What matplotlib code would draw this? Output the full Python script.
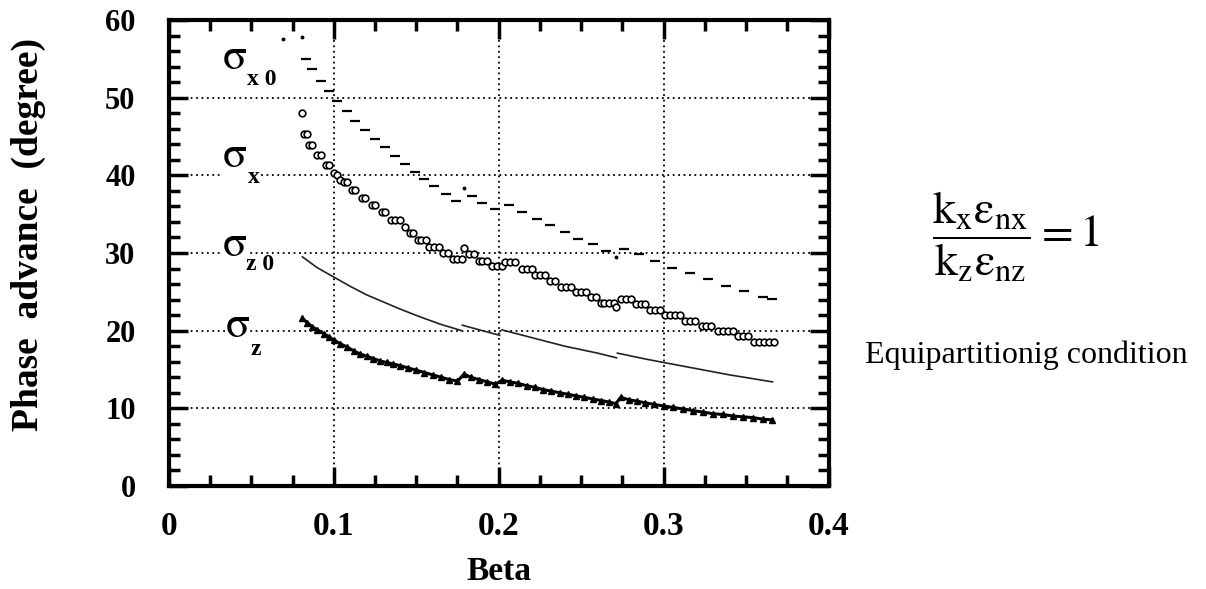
import numpy as np
import matplotlib
matplotlib.use("Agg")
import matplotlib.pyplot as plt
from matplotlib.ticker import MultipleLocator

plt.rcParams["font.family"] = ["Liberation Serif", "DejaVu Serif"]
plt.rcParams["mathtext.fontset"] = "stix"

# sigma_x0 : short dashes (plus a few isolated dots)
beta_x0 = [0.083, 0.087, 0.092, 0.097, 0.102, 0.108, 0.113, 0.119,
           0.125, 0.131, 0.137, 0.143, 0.149, 0.155, 0.161, 0.168, 0.174,
           0.184, 0.190, 0.198, 0.206, 0.214, 0.223, 0.231, 0.240, 0.248, 0.257,
           0.265, 0.276, 0.285, 0.295, 0.305, 0.316, 0.327, 0.338, 0.349,
           0.360, 0.366]
sig_x0 = [55.0, 53.7, 52.2, 50.8, 49.6, 48.3, 47.0, 45.8,
          44.7, 43.6, 42.5, 41.4, 40.4, 39.5, 38.6, 37.6, 36.7,
          37.3, 36.5, 35.6, 36.2, 35.3, 34.4, 33.6, 32.7, 31.8, 31.1,
          30.2, 30.5, 29.9, 29.0, 28.1, 27.4, 26.6, 25.8, 25.1,
          24.3, 24.1]
beta_x0_dots = [0.069, 0.081, 0.179, 0.271]
sig_x0_dots = [57.6, 57.8, 38.4, 29.5]

# sigma_x : open circles
beta_x = [0.081, 0.082, 0.084, 0.085, 0.087, 0.090, 0.092, 0.095, 0.097, 0.100,
          0.102, 0.104, 0.106, 0.108, 0.111, 0.113, 0.117, 0.119, 0.123, 0.125,
          0.129, 0.131, 0.135, 0.137, 0.140, 0.143, 0.146, 0.148, 0.151, 0.153,
          0.156, 0.158, 0.161, 0.164, 0.166, 0.169, 0.172, 0.175, 0.178, 0.179,
          0.182, 0.185, 0.188, 0.190, 0.193, 0.196, 0.199, 0.202, 0.204, 0.207,
          0.210, 0.214, 0.217, 0.220, 0.222, 0.225, 0.228, 0.231, 0.234, 0.238,
          0.241, 0.244, 0.247, 0.250, 0.253, 0.256, 0.259, 0.262, 0.264, 0.267,
          0.270, 0.271, 0.274, 0.277, 0.280, 0.283, 0.286, 0.289, 0.292, 0.295,
          0.298, 0.301, 0.304, 0.307, 0.310, 0.313, 0.316, 0.319, 0.323, 0.326,
          0.329, 0.333, 0.336, 0.339, 0.342, 0.345, 0.348, 0.351, 0.355, 0.358,
          0.361, 0.364, 0.367]
sig_x = [48.0, 45.3, 45.3, 43.9, 43.9, 42.6, 42.6, 41.3, 41.3, 40.3,
         40.1, 39.4, 39.2, 39.2, 38.1, 38.1, 37.1, 37.1, 36.2, 36.2,
         35.3, 35.3, 34.3, 34.3, 34.2, 33.4, 32.6, 32.6, 31.7, 31.7,
         31.7, 30.8, 30.8, 30.8, 30.0, 30.0, 29.2, 29.2, 29.2, 30.6,
         29.9, 29.9, 29.0, 29.0, 29.0, 28.3, 28.3, 28.3, 28.8, 28.8,
         28.8, 27.9, 27.9, 27.9, 27.2, 27.2, 27.2, 26.4, 26.4, 25.6,
         25.6, 25.6, 25.0, 25.0, 25.0, 24.3, 24.3, 23.6, 23.6, 23.6,
         23.6, 23.0, 24.1, 24.1, 24.1, 23.4, 23.4, 23.4, 22.7, 22.7,
         22.7, 22.0, 22.0, 22.0, 22.0, 21.2, 21.2, 21.2, 20.6, 20.6,
         20.6, 19.9, 19.9, 19.9, 19.9, 19.3, 19.3, 19.3, 18.5, 18.5,
         18.5, 18.5, 18.5]

# sigma_z0 : fine line, four pieces
beta_z0_a = [0.081, 0.090, 0.100, 0.110, 0.120, 0.130, 0.140, 0.152, 0.165, 0.1776]
sig_z0_a = [29.5, 28.1, 26.9, 25.7, 24.6, 23.7, 22.8, 21.8, 20.8, 20.0]
beta_z0_b = [0.178, 0.190, 0.2006]
sig_z0_b = [20.7, 20.0, 19.4]
beta_z0_c = [0.202, 0.220, 0.240, 0.260, 0.2715]
sig_z0_c = [20.1, 19.1, 18.0, 17.1, 16.5]
beta_z0_d = [0.272, 0.290, 0.300, 0.320, 0.340, 0.366]
sig_z0_d = [17.1, 16.3, 15.9, 15.1, 14.3, 13.4]

# sigma_z : filled triangles
beta_z = [0.081, 0.084, 0.087, 0.090, 0.094, 0.097, 0.100, 0.104, 0.108, 0.112,
          0.116, 0.120, 0.124, 0.128, 0.132, 0.136, 0.140, 0.145, 0.150, 0.155,
          0.160, 0.165, 0.170, 0.175, 0.179, 0.183, 0.188, 0.193, 0.198, 0.202,
          0.207, 0.212, 0.217, 0.222, 0.227, 0.232, 0.237, 0.242, 0.247, 0.252,
          0.257, 0.262, 0.267, 0.271, 0.274, 0.279, 0.284, 0.289, 0.294, 0.300,
          0.306, 0.312, 0.318, 0.324, 0.330, 0.336, 0.342, 0.348, 0.354, 0.360,
          0.366]
sig_z = [21.6, 21.0, 20.5, 20.1, 19.6, 19.2, 18.8, 18.3, 17.9, 17.4,
         17.0, 16.7, 16.4, 16.1, 15.9, 15.7, 15.5, 15.2, 14.9, 14.6,
         14.3, 14.0, 13.7, 13.5, 14.4, 14.0, 13.7, 13.4, 13.1, 13.6,
         13.4, 13.2, 12.9, 12.7, 12.4, 12.2, 12.0, 11.8, 11.6, 11.4,
         11.2, 11.0, 10.8, 10.6, 11.4, 11.1, 10.9, 10.7, 10.5, 10.3,
         10.1, 9.9, 9.7, 9.5, 9.3, 9.2, 9.0, 8.9, 8.8, 8.6,
         8.5]

x_ticks = [0, 0.1, 0.2, 0.3, 0.4]
x_ticklabels = ["0", "0.1", "0.2", "0.3", "0.4"]
y_ticks = [0, 10, 20, 30, 40, 50, 60]

# curve labels: (sigma centre, subscript left/centre, subscript)
curve_labels = [((0.040, 55.0), (0.0475, 52.3), "x 0"),
                ((0.040, 42.4), (0.0480, 39.7), "x"),
                ((0.040, 30.9), (0.0470, 28.5), "z 0"),
                ((0.042, 20.5), (0.0495, 17.6), "z")]

fig = plt.figure(figsize=(12.06, 5.89), dpi=100)
ax = fig.add_axes([0.140, 0.175, 0.547, 0.791])

for g in [0.1, 0.2, 0.3]:
    ax.axvline(g, color="black", ls=(0, (1, 2)), lw=1.3, zorder=1)
for g in [10, 20, 30, 40, 50]:
    ax.axhline(g, color="black", ls=(0, (1, 2)), lw=1.3, zorder=1)

ax.plot(beta_x0, sig_x0, ls="none", marker="_", ms=6.5, mew=1.6, color="black", zorder=3)
ax.plot(beta_x0_dots, sig_x0_dots, ls="none", marker="o", ms=1.8, color="black", zorder=3)
ax.plot(beta_x, sig_x, ls="none", marker="o", ms=4.8, mfc="white", mec="black", mew=1.2, zorder=3)
for bx, sy in [(beta_z0_a, sig_z0_a), (beta_z0_b, sig_z0_b),
               (beta_z0_c, sig_z0_c), (beta_z0_d, sig_z0_d)]:
    ax.plot(bx, sy, color="#222222", lw=1.2, zorder=3)
ax.plot(beta_z, sig_z, color="black", lw=2.2, zorder=3)
ax.plot(beta_z, sig_z, ls="none", marker="^", ms=5, color="black", zorder=3)

for (sx, sy), (bx, by), sub in curve_labels:
    ax.text(sx, sy, "σ", family="STIXGeneral", fontsize=32, ha="center", va="center", zorder=4,
            bbox=dict(facecolor="white", edgecolor="none", pad=0))
    ax.text(bx, by, sub, fontsize=17, fontweight="bold", ha="left", va="center", zorder=4,
            bbox=dict(facecolor="white", edgecolor="none", pad=0))

ax.set_xlim(0, 0.4)
ax.set_ylim(0, 60)
ax.set_xticks(x_ticks)
ax.set_xticklabels(x_ticklabels)
ax.set_yticks(y_ticks)
ax.xaxis.set_minor_locator(MultipleLocator(0.025))
ax.yaxis.set_minor_locator(MultipleLocator(2))
ax.tick_params(which="both", direction="in", top=True, right=True, width=2.5)
ax.tick_params(which="major", length=14)
ax.tick_params(which="minor", length=8)
ax.tick_params(axis="x", pad=18, labelsize=24)
ax.tick_params(axis="y", pad=24, labelsize=22)
for lab in ax.get_xticklabels() + ax.get_yticklabels():
    lab.set_fontweight("bold")
for sp in ax.spines.values():
    sp.set_linewidth(3)

ax.set_xlabel("Beta", fontsize=24, fontweight="bold", labelpad=10)
ax.set_ylabel("Phase  advance  (degree)", fontsize=27, fontweight="bold")
ax.yaxis.set_label_coords(-0.186, 0.539)

fig.text(0.842, 0.598, r"$\dfrac{\mathrm{k_x\varepsilon_{nx}}}{\mathrm{k_z\varepsilon_{nz}}}=1$",
         fontsize=33, ha="center", va="center")
fig.text(0.851, 0.397, "Equipartitionig condition", fontsize=23, ha="center", va="center")

fig.savefig("out.png", dpi=100)
